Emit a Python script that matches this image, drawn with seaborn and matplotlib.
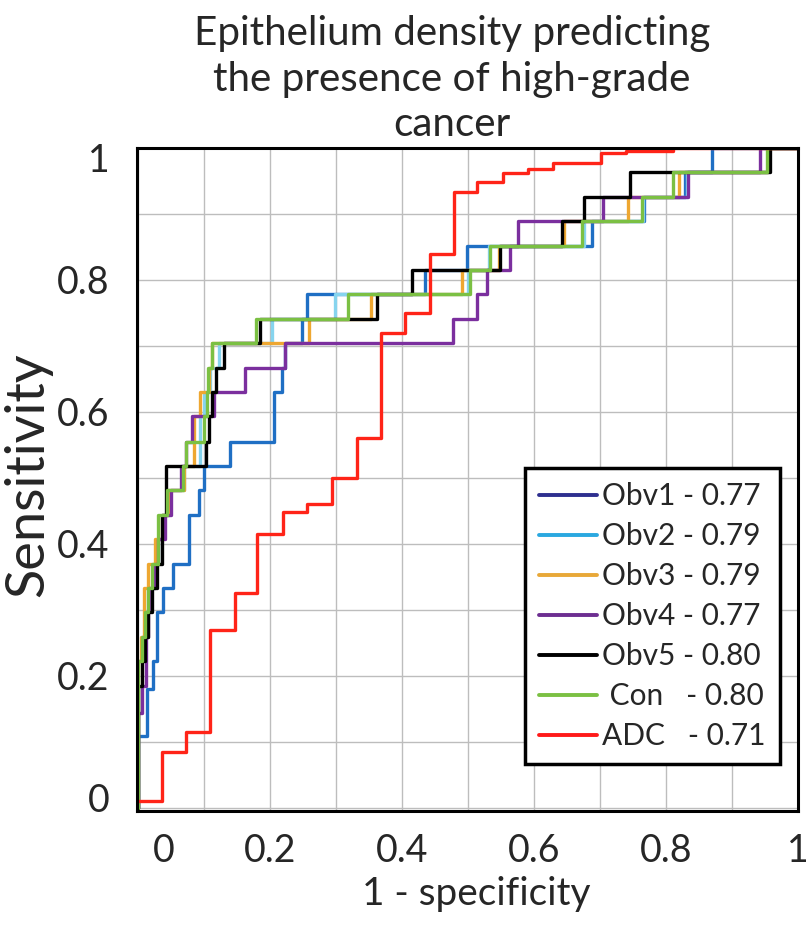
import numpy as np
import matplotlib
matplotlib.use('Agg')
import matplotlib.pyplot as plt
import matplotlib.transforms as mtransforms
from matplotlib.lines import Line2D
import seaborn as sns

# ROC step points (x = 1 - specificity where sensitivity steps up, y = sensitivity after the step)
obv1_x = [0, 0, 0.013, 0.023, 0.028, 0.038, 0.052, 0.077, 0.092, 0.100, 0.139, 0.206, 0.218, 0.223,
          0.248, 0.256, 0.435, 0.498, 0.687, 0.767, 0.828, 0.870, 1.0]
obv1_y = [0, 0.108, 0.180, 0.222, 0.296, 0.333, 0.370, 0.444, 0.481, 0.518, 0.555, 0.630, 0.667, 0.704,
          0.741, 0.778, 0.815, 0.852, 0.889, 0.926, 0.963, 1.0, 1.0]

obv2_x = [0, 0, 0.005, 0.010, 0.015, 0.022, 0.030, 0.036, 0.046, 0.070, 0.093, 0.100, 0.108, 0.122,
          0.203, 0.298, 0.500, 0.531, 0.676, 0.765, 0.831, 0.955, 1.0]
obv2_y = [0, 0.222, 0.259, 0.296, 0.333, 0.370, 0.407, 0.444, 0.481, 0.518, 0.593, 0.630, 0.667, 0.704,
          0.741, 0.778, 0.815, 0.852, 0.889, 0.926, 0.963, 1.0, 1.0]

obv3_x = [0, 0, 0.004, 0.008, 0.015, 0.025, 0.036, 0.045, 0.070, 0.084, 0.094, 0.107, 0.111, 0.258,
          0.352, 0.490, 0.546, 0.645, 0.743, 0.819, 0.954, 1.0]
obv3_y = [0, 0.222, 0.259, 0.333, 0.370, 0.407, 0.444, 0.481, 0.518, 0.593, 0.630, 0.667, 0.704, 0.741,
          0.778, 0.815, 0.852, 0.889, 0.926, 0.963, 1.0, 1.0]

obv4_x = [0, 0, 0.006, 0.012, 0.014, 0.016, 0.025, 0.030, 0.040, 0.050, 0.064, 0.072, 0.081, 0.114,
          0.162, 0.223, 0.477, 0.513, 0.528, 0.564, 0.576, 0.705, 0.833, 0.942, 1.0]
obv4_y = [0, 0.144, 0.185, 0.259, 0.296, 0.333, 0.370, 0.407, 0.444, 0.481, 0.518, 0.555, 0.593, 0.630,
          0.667, 0.704, 0.741, 0.778, 0.815, 0.852, 0.889, 0.926, 0.963, 1.0, 1.0]

obv5_x = [0, 0, 0.006, 0.010, 0.015, 0.020, 0.028, 0.036, 0.042, 0.102, 0.107, 0.112, 0.117, 0.130,
          0.185, 0.362, 0.415, 0.548, 0.642, 0.675, 0.745, 0.958, 1.0]
obv5_y = [0, 0.185, 0.222, 0.259, 0.296, 0.333, 0.370, 0.444, 0.518, 0.555, 0.593, 0.630, 0.667, 0.704,
          0.741, 0.778, 0.815, 0.852, 0.889, 0.926, 0.963, 1.0, 1.0]

con_x = [0, 0, 0.006, 0.010, 0.014, 0.020, 0.030, 0.044, 0.067, 0.072, 0.100, 0.104, 0.106, 0.112,
         0.179, 0.318, 0.503, 0.533, 0.672, 0.763, 0.811, 0.953, 1.0]
con_y = [0, 0.222, 0.259, 0.296, 0.333, 0.370, 0.444, 0.481, 0.518, 0.555, 0.593, 0.630, 0.667, 0.704,
         0.741, 0.778, 0.815, 0.852, 0.889, 0.926, 0.963, 1.0, 1.0]

adc_x = [0, 0.036, 0.073, 0.109, 0.147, 0.180, 0.220, 0.256, 0.294, 0.332, 0.368, 0.405, 0.442, 0.478,
         0.514, 0.553, 0.590, 0.628, 0.702, 0.740, 0.810, 1.0]
adc_y = [0.010, 0.085, 0.115, 0.270, 0.325, 0.415, 0.448, 0.460, 0.500, 0.560, 0.720, 0.750, 0.840, 0.933,
         0.948, 0.962, 0.968, 0.978, 0.992, 0.995, 1.0, 1.0]

labels = ['Obv1 - 0.77', 'Obv2 - 0.79', 'Obv3 - 0.79', 'Obv4 - 0.77', 'Obv5 - 0.80',
          ' Con   - 0.80', 'ADC   - 0.71']
line_colors = ['#1f6fc4', '#86d4ee', '#eea731', '#7b2f9e', '#000000', '#7bc043', '#ff2418']
legend_colors = ['#2e2f8f', '#2aa8e0', '#e8a838', '#6d2e91', '#000000', '#7bc043', '#ff1a1a']

tick_vals = [0, 0.2, 0.4, 0.6, 0.8, 1]
tick_text = ['0', '0.2', '0.4', '0.6', '0.8', '1']
title_lines = ['Epithelium density predicting', 'the presence of high-grade', 'cancer']

sns.set_style('white')
plt.rcParams['font.family'] = ['Lato', 'DejaVu Sans']

W, H = 807, 932
fig = plt.figure(figsize=(W / 100, H / 100), dpi=100)
ax = fig.add_axes([137 / W, 1 - 811 / H, 661 / W, 663 / H])
renderer = fig.canvas.get_renderer()


def fit(t, target, dim='w'):
    bb = t.get_window_extent(renderer)
    cur = bb.width if dim == 'w' else bb.height
    t.set_fontsize(t.get_fontsize() * target / cur)
    return t.get_fontsize()


curves = [(obv1_x, obv1_y), (obv2_x, obv2_y), (obv3_x, obv3_y), (obv4_x, obv4_y),
          (obv5_x, obv5_y), (con_x, con_y), (adc_x, adc_y)]
for (xs, ys), c in zip(curves, line_colors):
    sns.lineplot(x=xs, y=ys, ax=ax, color=c, lw=2.4, drawstyle='steps-post',
                 estimator=None, sort=False, legend=False)

ax.set_xlim(-0.002, 1.0)
ax.set_ylim(-0.005, 1.0)

# grid every 0.1, labels every 0.2
grid = np.round(np.arange(0, 1.01, 0.1), 1)
ax.set_xticks(grid)
ax.set_yticks(grid)
ax.set_xticklabels([tick_text[tick_vals.index(g)] if g in tick_vals else '' for g in grid], fontsize=27)
ax.set_yticklabels([tick_text[tick_vals.index(g)] if g in tick_vals else '' for g in grid], fontsize=27)
ax.tick_params(axis='y', length=0, pad=20)
ax.tick_params(axis='x', length=0, pad=16)
ax.grid(True, color='#bdbdbd', lw=1.0)
for s in ax.spines.values():
    s.set_color('black')
    s.set_linewidth(2.2)


# nudge the end labels inward like the original
def shift(lbl, dx, dy):
    lbl.set_transform(lbl.get_transform() + mtransforms.ScaledTranslation(dx / 72, dy / 72, fig.dpi_scale_trans))


shift(ax.get_xticklabels()[0], 18, 0)
shift(ax.get_yticklabels()[0], 0, 7)
shift(ax.get_yticklabels()[-1], 0, -7)

ax.set_xlabel('1 - specificity', fontsize=27)
fit(ax.xaxis.label, 228, 'w')
ax.xaxis.set_label_coords((476 - 137) / 661, -0.098)

ax.set_ylabel('Sensitivity', fontsize=39)
ax.yaxis.set_label_coords(-0.128, 0.507)

# title, one text per line
t0 = fig.text(452 / W, 1 - 33 / H, title_lines[0], ha='center', va='center', fontsize=26)
tfs = fit(t0, 515, 'w')
for line, yc in zip(title_lines[1:], [80, 125]):
    fig.text(452 / W, 1 - yc / H, line, ha='center', va='center', fontsize=tfs)

# legend
probe = fig.text(0, 0, labels[0], fontsize=22)
lfs = fit(probe, 158, 'w')
lh = probe.get_window_extent(renderer).height
probe.remove()
fs_px = lfs * 100 / 72
handles = [Line2D([0], [0], color=c, lw=2.8) for c in legend_colors]
leg = ax.legend(handles, labels, loc='upper left', bbox_to_anchor=(525 / W, 1 - 468 / H),
                bbox_transform=fig.transFigure, borderaxespad=0, fontsize=lfs,
                frameon=True, fancybox=False, handlelength=58 / fs_px,
                handletextpad=5 / fs_px, labelspacing=max(40 - lh, 0) / fs_px,
                borderpad=14 / fs_px)
leg.get_frame().set_edgecolor('black')
leg.get_frame().set_linewidth(2.5)
leg.get_frame().set_alpha(1)

fig.savefig('out.png', dpi=100)
